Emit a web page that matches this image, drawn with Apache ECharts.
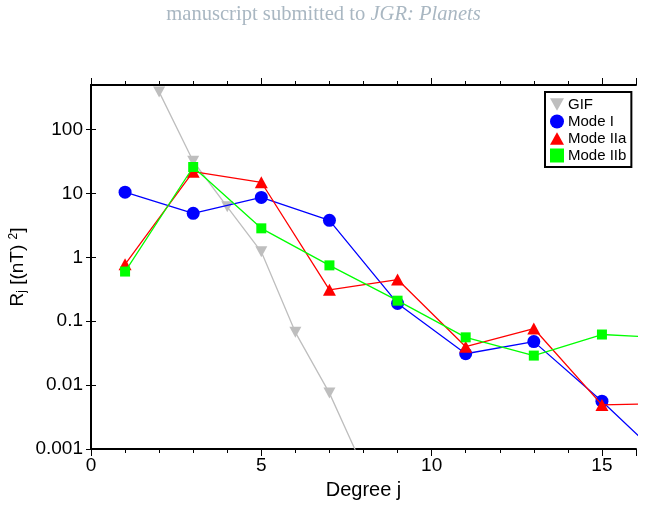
<!DOCTYPE html>
<html>
<head>
<meta charset="utf-8">
<script src="https://cdn.jsdelivr.net/npm/echarts@6/dist/echarts.min.js"></script>
<style>
  html, body { margin: 0; padding: 0; background: #fff; }
  #main { width: 647px; height: 505px; }
</style>
</head>
<body>
<div id="main"></div>
<script>
const chartDom = document.getElementById('main');
const myChart = echarts.init(chartDom);

// values (R_j in (nT)^2 by degree j)
const gifDegree = [2, 3, 4, 5, 6, 7, 8];
const gifValues = [390, 32, 6.2, 1.22, 0.067, 0.0075, 0.0005];

const modeDegree = [1, 3, 5, 7, 9, 11, 13, 15, 17];
const modeIValues = [10.5, 4.9, 8.7, 3.8, 0.19, 0.031, 0.048, 0.0056, 0.00055];
const modeIIaValues = [0.78, 22, 15, 0.31, 0.45, 0.04, 0.077, 0.0049, 0.0052];
const modeIIbValues = [0.6, 26, 2.85, 0.75, 0.21, 0.056, 0.029, 0.062, 0.055];

const seriesNames = ['GIF', 'Mode I', 'Mode IIa', 'Mode IIb'];
const seriesColors = ['#bebebe', '#0000ff', '#ff0000', '#00ff00'];

const downTriangle = 'path://M0,0 L10,0 L5,9 Z';
const upTriangle = 'path://M5,0 L10,9 L0,9 Z';
const seriesSymbols = [downTriangle, 'circle', upTriangle, 'rect'];
const symbolSizes = [[12, 11], 13, [13, 12], 10];

const fontFam = 'Liberation Sans, Arial, sans-serif';
const serifFam = 'Liberation Serif, DejaVu Serif, serif';

zip = (xs, ys) => xs.map((x, i) => [x, ys[i]]);

const dataSets = [
    zip(gifDegree, gifValues),
    zip(modeDegree, modeIValues),
    zip(modeDegree, modeIIaValues),
    zip(modeDegree, modeIIbValues)
];

const xBase = {
    type: 'value',
    min: 0,
    max: 16,
    splitLine: { show: false },
    axisLine: { show: true, onZero: false, lineStyle: { color: '#000', width: 2 } }
};

const yBase = {
    type: 'log',
    logBase: 10,
    min: 0.001,
    max: 500,
    splitLine: { show: false },
    axisLine: { show: true, lineStyle: { color: '#000', width: 2 } },
    axisTick: { show: true, length: 5, lineStyle: { color: '#000', width: 1 } }
};

myChart.setOption({
    animation: false,
    backgroundColor: '#fff',
    title: {
        text: '{n|manuscript submitted to }{i|JGR: Planets}',
        left: 'center',
        top: -1,
        textStyle: {
            fontWeight: 'normal',
            rich: {
                n: { fontFamily: serifFam, fontSize: 20.6, fontWeight: 'normal', color: '#a9b7c2' },
                i: { fontFamily: serifFam, fontSize: 20.6, fontWeight: 'normal', fontStyle: 'italic', color: '#a9b7c2' }
            }
        }
    },
    grid: { left: 91, right: 11, top: 85, bottom: 56, containLabel: false, outerBoundsMode: 'none' },
    legend: {
        orient: 'vertical',
        left: 545,
        top: 92,
        padding: [5, 5, 4, 5],
        itemGap: 2,
        itemWidth: 14,
        itemHeight: 14,
        borderColor: '#000',
        borderWidth: 2,
        borderRadius: 0,
        backgroundColor: '#fff',
        textStyle: { fontFamily: fontFam, fontSize: 15, color: '#000', padding: [0, 0, 0, -1] },
        data: seriesNames.map((name, i) => ({
            name,
            icon: seriesSymbols[i],
            itemStyle: { color: seriesColors[i] }
        }))
    },
    xAxis: [
        Object.assign({}, xBase, {
            position: 'bottom',
            interval: 1,
            name: 'Degree j',
            nameLocation: 'middle',
            nameGap: 31,
            nameMoveOverlap: false,
            nameTextStyle: { fontFamily: fontFam, fontSize: 20, color: '#000' },
            axisTick: { show: true, length: 4, lineStyle: { color: '#000', width: 1 } },
            axisLabel: {
                fontFamily: fontFam, fontSize: 19, color: '#000', margin: 7,
                showMaxLabel: false,
                formatter: (v) => (v % 5 === 0 ? String(v) : '')
            }
        }),
        Object.assign({}, xBase, {
            position: 'bottom',
            interval: 5,
            axisLine: { show: false },
            axisTick: { show: true, length: 7, lineStyle: { color: '#000', width: 1 } },
            axisLabel: { show: false }
        }),
        Object.assign({}, xBase, {
            position: 'top',
            interval: 1,
            axisTick: { show: true, length: 4, lineStyle: { color: '#000', width: 1 } },
            axisLabel: { show: false }
        }),
        Object.assign({}, xBase, {
            position: 'top',
            interval: 5,
            axisLine: { show: false },
            axisTick: { show: true, length: 7, lineStyle: { color: '#000', width: 1 } },
            axisLabel: { show: false }
        })
    ],
    yAxis: [
        Object.assign({}, yBase, {
            position: 'left',
            name: '{a|R}{s|j}{a| [(nT) }{p|2}{a|]}',
            nameLocation: 'middle',
            nameGap: 63,
            nameMoveOverlap: false,
            nameTextStyle: {
                rich: {
                    a: { fontFamily: fontFam, fontSize: 19, color: '#000' },
                    s: { fontFamily: fontFam, fontSize: 12, color: '#000', verticalAlign: 'bottom', padding: [8, 0, 0, 0] },
                    p: { fontFamily: fontFam, fontSize: 12, color: '#000', verticalAlign: 'top', padding: [0, 0, 8, 0] }
                }
            },
            axisLabel: {
                fontFamily: fontFam, fontSize: 19, color: '#000', margin: 8,
                showMaxLabel: false,
                formatter: (v) => String(+v.toPrecision(3))
            }
        }),
        Object.assign({}, yBase, {
            position: 'right',
            axisLabel: { show: false }
        })
    ],
    series: seriesNames.map((name, i) => ({
        name,
        type: 'line',
        xAxisIndex: 0,
        yAxisIndex: 0,
        data: dataSets[i],
        symbol: seriesSymbols[i],
        symbolSize: symbolSizes[i],
        showAllSymbol: true,
        clip: true,
        z: 2 + i,
        lineStyle: { color: seriesColors[i], width: 1.3 },
        itemStyle: { color: seriesColors[i], borderWidth: 0 }
    }))
});

window.addEventListener('resize', () => {
    myChart.resize();
});
</script>
</body>
</html>
